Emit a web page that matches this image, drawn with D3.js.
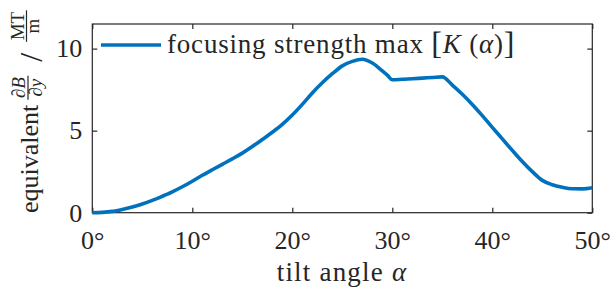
<!DOCTYPE html>
<html><head><meta charset="utf-8">
<script src="https://cdn.jsdelivr.net/npm/d3@7"></script>
<style>
html,body{margin:0;padding:0;background:#fff;}
svg{display:block;}
text{font-family:"Liberation Serif",serif;fill:#262626;}
</style></head>
<body><svg id="c" width="611" height="288"></svg>
<script>
const alpha = [0,1,2,3,4,5,6,7,8,9,10,11,12,13,14,15,16,17,18,19,20,21,22,23,24,25,26,27,28,29,29.5,30,31,32,33,34,35,36,37,38,39,40,41,42,43,44,45,46,47,48,49,50];
const strength = [0,0.02,0.08,0.2,0.35,0.53,0.75,1.0,1.27,1.58,1.92,2.28,2.62,2.95,3.28,3.63,4.03,4.46,4.9,5.38,5.95,6.6,7.3,7.92,8.47,8.95,9.22,9.35,9.12,8.64,8.38,8.1,8.13,8.16,8.2,8.24,8.28,7.78,7.22,6.6,5.92,5.2,4.5,3.8,3.12,2.5,1.97,1.7,1.55,1.46,1.45,1.52];
const xTicks = [0,10,20,30,40,50];
const yTicks = [0,5,10];
const xDomain = [0,50];
const yDomain = [0,11.5];
const seriesName = "focusing strength max";

const svg = d3.select("#c");
const M = {l:92.3, r:592.3, t:24, b:212.7};
const x = d3.scaleLinear().domain(xDomain).range([M.l, M.r]);
const y = d3.scaleLinear().domain(yDomain).range([M.b, M.t]);
const axisCol = "#262626";
const tickLen = 5;
const FS = 26;

const gx = svg.append("g").attr("transform",`translate(0,${M.b})`)
  .call(d3.axisBottom(x).tickValues(xTicks).tickSize(-tickLen).tickPadding(18).tickFormat(d=>d+"°"));
const gxt = svg.append("g").attr("transform",`translate(0,${M.t})`)
  .call(d3.axisTop(x).tickValues(xTicks).tickSize(-tickLen).tickFormat(""));
const gy = svg.append("g").attr("transform",`translate(${M.l},0)`)
  .call(d3.axisLeft(y).tickValues(yTicks).tickSize(-tickLen).tickPadding(10).tickFormat(d3.format("d")));
const gyr = svg.append("g").attr("transform",`translate(${M.r},0)`)
  .call(d3.axisRight(y).tickValues(yTicks).tickSize(-tickLen).tickFormat(""));
[gx,gxt,gy,gyr].forEach(g=>{
  g.selectAll("line").attr("stroke",axisCol).attr("stroke-width",1.2);
  g.selectAll("text").style("font-family",'"Liberation Serif",serif').attr("font-size",FS).attr("fill",axisCol);
  g.selectAll(".domain").remove();
});
svg.append("rect").attr("x",M.l).attr("y",M.t).attr("width",M.r-M.l).attr("height",M.b-M.t)
  .attr("fill","none").attr("stroke",axisCol).attr("stroke-width",1.2);

const pts = alpha.map((a,i)=>[a,strength[i]]);
svg.append("path").datum(pts)
  .attr("d", d3.line().x(d=>x(d[0])).y(d=>y(d[1])).curve(d3.curveMonotoneX))
  .attr("fill","none").attr("stroke","#0072BD").attr("stroke-width",3.6)
  .attr("stroke-linejoin","round").attr("stroke-linecap","butt");

// legend
svg.append("line").attr("x1",101).attr("x2",161).attr("y1",45).attr("y2",45)
  .attr("stroke","#0072BD").attr("stroke-width",3.6);
const lt = svg.append("text").attr("x",167).attr("y",53).attr("font-size",27).style("letter-spacing","0.8px");
lt.append("tspan").text(seriesName+" ");
lt.append("tspan").text("[").attr("font-size",32).attr("dy",1);
lt.append("tspan").text("K").attr("font-style","italic").attr("dy",-1);
lt.append("tspan").text(" (");
lt.append("tspan").text("α").attr("font-style","italic");
lt.append("tspan").text(")");
lt.append("tspan").text("]").attr("font-size",32).attr("dy",1);

// x label
const xl = svg.append("text").attr("x",342).attr("y",281).attr("text-anchor","middle").attr("font-size",27).style("letter-spacing","1.2px");
xl.append("tspan").text("tilt angle ");
xl.append("tspan").text("α").attr("font-style","italic");

// y label (rotated)
const yl = svg.append("g");
let cx = 0;
function piece(txt, size){
  return yl.append("text").attr("x",cx).attr("y",0).attr("font-size",size).text(txt);
}
function frac(numParts, denParts, size, barY, denOff){
  const g0 = cx;
  const num = yl.append("text").attr("y",barY-3).attr("font-size",size).attr("text-anchor","middle");
  numParts.forEach(p=>{const s=num.append("tspan").text(p[0]); if(p[1]) s.attr("font-style","italic");});
  const den = yl.append("text").attr("y",barY+denOff).attr("font-size",size).attr("text-anchor","middle");
  denParts.forEach(p=>{const s=den.append("tspan").text(p[0]); if(p[1]) s.attr("font-style","italic");});
  const w = Math.max(num.node().getComputedTextLength(), den.node().getComputedTextLength())+3;
  num.attr("x",g0+w/2); den.attr("x",g0+w/2);
  yl.append("line").attr("x1",g0).attr("x2",g0+w).attr("y1",barY).attr("y2",barY)
    .attr("stroke",axisCol).attr("stroke-width",1.2);
  cx += w;
}
let t1 = piece("equivalent",FS); cx += t1.node().getComputedTextLength()+5;
frac([["∂"],["B",true]],[["∂"],["y",true]],19,-10,14);
cx += 14;
let t2 = piece("/",32).attr("y",4); cx += t2.node().getComputedTextLength()+11;
frac([["MT"]],[["m"]],19,-11.5,12);
yl.attr("transform",`translate(38,213) rotate(-90)`);
</script></body></html>
